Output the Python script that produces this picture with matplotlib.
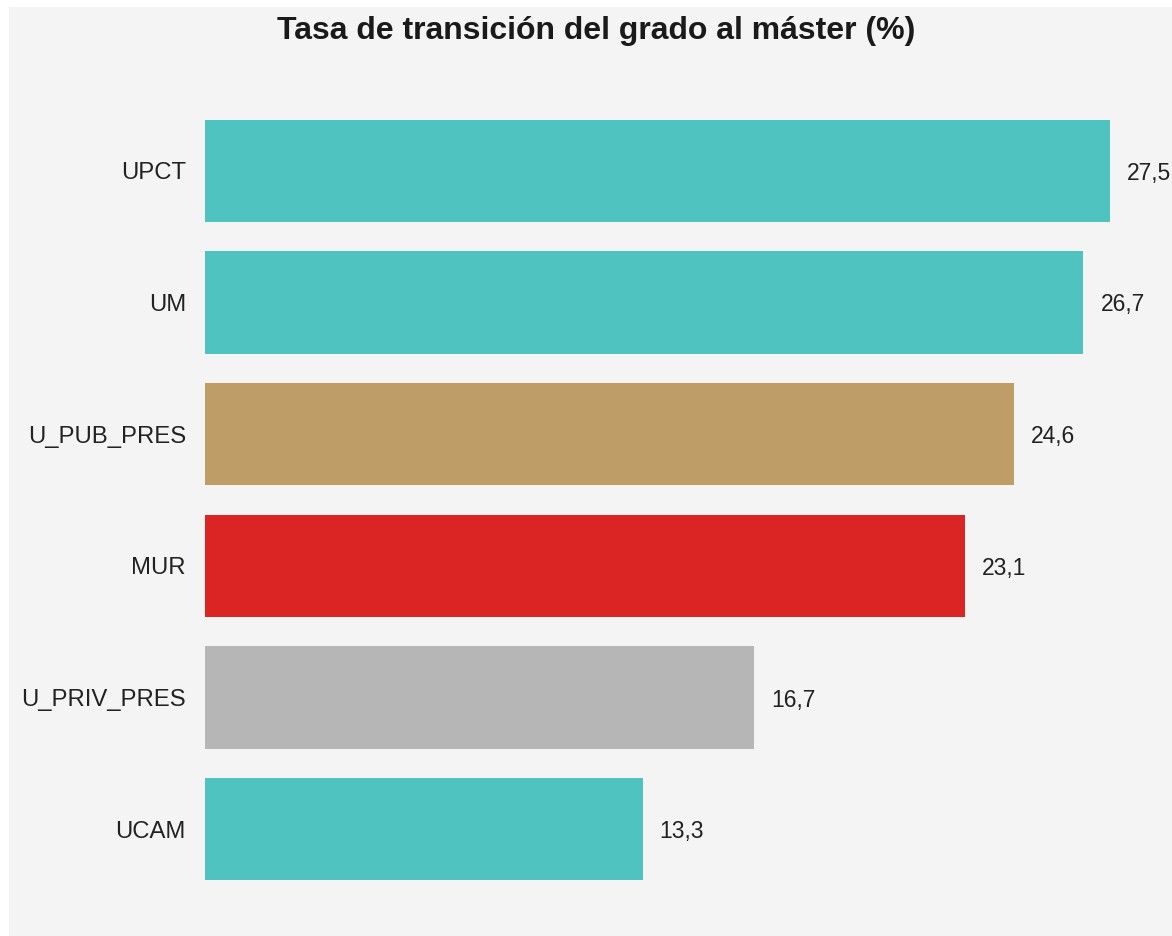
import matplotlib
matplotlib.use("Agg")
import matplotlib.pyplot as plt
from matplotlib.patches import Rectangle

# data (top to bottom as in the chart)
universidades = ["UPCT", "UM", "U_PUB_PRES", "MUR", "U_PRIV_PRES", "UCAM"]
tasas = [27.5, 26.7, 24.6, 23.1, 16.7, 13.3]
colores = ["#4FC3BF", "#4FC3BF", "#BF9D66", "#DB2424", "#B6B6B6", "#4FC3BF"]
titulo = "Tasa de transición del grado al máster (%)"

W, H = 1172, 936
plt.rcParams["font.family"] = ["Liberation Sans", "DejaVu Sans"]

fig = plt.figure(figsize=(W / 100, H / 100), dpi=100, facecolor="white")
fig.patches.append(Rectangle((9 / W, 0), 1 - 9 / W, (H - 7) / H,
                             transform=fig.transFigure, facecolor="#f4f4f4",
                             edgecolor="none", zorder=-10))

ax = fig.add_axes([205 / W, (H - 895) / H, (W - 205) / W, (895 - 105) / H])
ax.set_facecolor("none")

ypos = list(range(len(universidades)))
ax.barh(ypos, tasas, height=0.775, color=colores)
ax.set_ylim(len(universidades) - 0.5, -0.5)
ax.set_xlim(0, (W - 205) / 32.9)

for y, v in zip(ypos, tasas):
    ax.annotate(f"{v:.1f}".replace(".", ","), (v, y), xytext=(17, 0),
                textcoords="offset pixels", va="center_baseline", ha="left",
                fontsize=16.5, color="#222222", annotation_clip=False)

ax.set_yticks(ypos)
ax.set_yticklabels(universidades, fontsize=17.2, color="#222222")
ax.tick_params(axis="y", length=0, pad=13.7)
ax.set_xticks([])
for s in ax.spines.values():
    s.set_visible(False)

fig.text(596 / W, 1 - 28 / H, titulo, ha="center", va="center_baseline",
         fontsize=23, fontweight="bold", color="#1a1a1a")

fig.savefig("out.png", dpi=100, facecolor="white")
